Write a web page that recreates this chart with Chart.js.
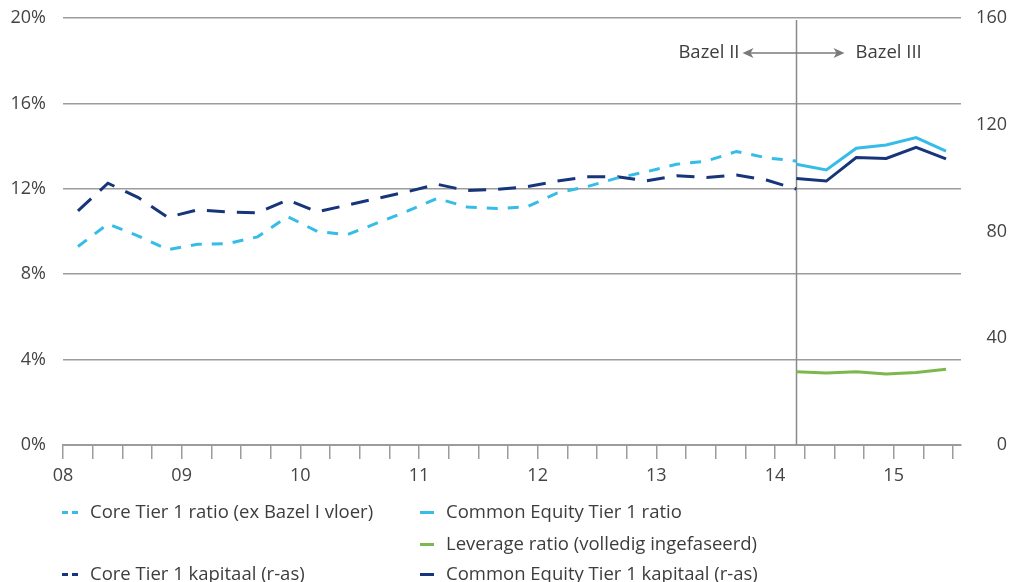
<!DOCTYPE html>
<html>
<head>
<meta charset="utf-8">
<script src="https://cdn.jsdelivr.net/npm/chart.js@4/dist/chart.umd.min.js"></script>
<style>
  html, body { margin: 0; padding: 0; background: #fff; }
  #wrap { position: relative; width: 1011px; height: 582px; }
  #c { position: absolute; left: 0; top: 0; }
  .lg { position: absolute; font: 18.5px "Open Sans", Roboto, sans-serif; color: #3d3d3d; white-space: nowrap; line-height: 22px; }
  .mk { position: absolute; height: 3px; }
</style>
</head>
<body>
<div id="wrap">
  <canvas id="c" width="1011" height="582"></canvas>
  <div id="legend"></div>
</div>
<script>
// Quarters on the horizontal axis (2008 K1 .. 2015 K2)
const quarters = [
  '2008 K1','2008 K2','2008 K3','2008 K4',
  '2009 K1','2009 K2','2009 K3','2009 K4',
  '2010 K1','2010 K2','2010 K3','2010 K4',
  '2011 K1','2011 K2','2011 K3','2011 K4',
  '2012 K1','2012 K2','2012 K3','2012 K4',
  '2013 K1','2013 K2','2013 K3','2013 K4',
  '2014 K1','2014 K2','2014 K3','2014 K4',
  '2015 K1','2015 K2'
];
const yearLabels = ['08','09','10','11','12','13','14','15'];
const leftTicks = [0, 4, 8, 12, 16, 20];
const rightTicks = [0, 40, 80, 120, 160];

// Bazel II period: 2008 K1 .. 2014 K1 (percent / capital in bn)
const coreTier1Ratio = [
  9.3, 10.35, 9.8, 9.15, 9.4, 9.43, 9.75, 10.7,
  10.0, 9.85, 10.4, 10.95, 11.55, 11.15, 11.08, 11.15,
  11.8, 12.1, 12.5, 12.8, 13.15, 13.3, 13.75, 13.45, 13.3
];
const coreTier1Capital = [
  87.7, 98.1, 92.8, 85.3, 88.1, 87.3, 87.0, 91.8,
  87.4, 89.9, 92.4, 94.9, 97.7, 95.3, 95.8, 96.8,
  98.9, 100.5, 100.5, 99.0, 100.9, 100.2, 101.2, 99.3, 95.9
];
// Bazel III period: 2014 K1 .. 2015 K2
const cet1Ratio = [13.15, 12.88, 13.9, 14.05, 14.4, 13.77];
const leverageRatio = [3.43, 3.37, 3.43, 3.33, 3.4, 3.55];
const cet1Capital = [99.9, 98.9, 107.7, 107.4, 111.5, 107.2];

const bazelIIIStart = 24; // index of 2014 K1

const LIGHT = '#35bde8';
const DARK = '#17357a';
const GREEN = '#7db84e';
const GRID = '#9c9c9c';
const TEXT = '#444444';
const FONT = '"Open Sans", Roboto, sans-serif';

function fromStart(values, start) {
  return Array(start).fill(null).concat(values);
}

// labels sit beside the gridlines, so the value axes need no extra room above/below
function noVerticalPadding(scale) {
  scale.paddingTop = 0;
  scale.paddingBottom = 0;
}

const dividerPlugin = {
  id: 'bazelDivider',
  beforeDatasetsDraw(chart) {
    const { ctx, chartArea, scales } = chart;
    const x = Math.round(scales.x.getPixelForValue(bazelIIIStart)) + 0.5;
    ctx.save();
    ctx.strokeStyle = '#8a8a8a';
    ctx.lineWidth = 1.5;
    ctx.beginPath();
    ctx.moveTo(x, chartArea.top + 2);
    ctx.lineTo(x, chartArea.bottom);
    ctx.stroke();

    // arrow with labels on either side
    const y = 53;
    const x0 = x - 54, x1 = x + 48;
    ctx.strokeStyle = '#7a7a7a';
    ctx.fillStyle = '#7a7a7a';
    ctx.lineWidth = 1.3;
    ctx.beginPath();
    ctx.moveTo(x0 + 4, y);
    ctx.lineTo(x1 - 4, y);
    ctx.stroke();
    const head = (tipX, dir) => {
      ctx.beginPath();
      ctx.moveTo(tipX, y);
      ctx.lineTo(tipX + dir * 11, y - 5);
      ctx.lineTo(tipX + dir * 8, y);
      ctx.lineTo(tipX + dir * 11, y + 5);
      ctx.closePath();
      ctx.fill();
    };
    head(x0, 1);
    head(x1, -1);

    ctx.fillStyle = '#3d3d3d';
    ctx.font = '18.5px ' + FONT;
    ctx.textBaseline = 'middle';
    ctx.textAlign = 'right';
    ctx.fillText('Bazel II', x0 - 3, y);
    ctx.textAlign = 'left';
    ctx.fillText('Bazel III', x1 + 11, y);
    ctx.restore();
  }
};

const lineBase = { borderWidth: 3, pointRadius: 0, tension: 0, fill: false, spanGaps: false };

new Chart(document.getElementById('c'), {
  type: 'line',
  data: {
    labels: quarters,
    datasets: [
      Object.assign({ label: 'Core Tier 1 ratio (ex Bazel I vloer)', data: coreTier1Ratio, borderColor: LIGHT, borderDash: [11, 10], yAxisID: 'y' }, lineBase),
      Object.assign({ label: 'Core Tier 1 kapitaal (r-as)', data: coreTier1Capital, borderColor: DARK, borderDash: [18, 12], yAxisID: 'y1' }, lineBase),
      Object.assign({ label: 'Common Equity Tier 1 ratio', data: fromStart(cet1Ratio, bazelIIIStart), borderColor: LIGHT, yAxisID: 'y' }, lineBase),
      Object.assign({ label: 'Leverage ratio (volledig ingefaseerd)', data: fromStart(leverageRatio, bazelIIIStart), borderColor: GREEN, yAxisID: 'y' }, lineBase),
      Object.assign({ label: 'Common Equity Tier 1 kapitaal (r-as)', data: fromStart(cet1Capital, bazelIIIStart), borderColor: DARK, yAxisID: 'y1' }, lineBase)
    ]
  },
  options: {
    responsive: false,
    animation: false,
    layout: { padding: { top: 18, right: 4, left: 0, bottom: 0 } },
    plugins: { legend: { display: false }, tooltip: { enabled: false } },
    scales: {
      x: {
        type: 'category',
        offset: true,
        display: false
      },
      xt: {
        type: 'linear',
        position: 'bottom',
        min: 0,
        max: 30.27,
        afterBuildTicks(scale) {
          scale.ticks = quarters.concat(['end']).map((_, i) => ({ value: i }));
        },
        afterFit(scale) { scale.height = 137; },
        ticks: {
          autoSkip: false,
          maxRotation: 0,
          padding: 6,
          color: TEXT,
          font: { family: FONT, size: 18 },
          callback: (v) => (v % 4 === 0 ? yearLabels[v / 4] : '')
        },
        grid: { drawOnChartArea: false, drawTicks: true, tickLength: 14, color: GRID, lineWidth: 1.5 },
        border: { display: true, color: GRID, width: 2 }
      },
      y: {
        position: 'left',
        min: 0,
        max: 20,
        afterBuildTicks(scale) { scale.ticks = leftTicks.map(v => ({ value: v })); },
        afterFit(scale) { scale.width = 63; noVerticalPadding(scale); },
        ticks: { padding: 17, color: TEXT, font: { family: FONT, size: 18 }, callback: v => v + '%' },
        grid: { color: GRID, lineWidth: 1.5, drawTicks: false },
        border: { display: false }
      },
      y1: {
        position: 'right',
        min: 0,
        max: 160,
        afterBuildTicks(scale) { scale.ticks = rightTicks.map(v => ({ value: v })); },
        afterFit(scale) { scale.width = 46; noVerticalPadding(scale); },
        ticks: { padding: 8, crossAlign: 'far', color: TEXT, font: { family: FONT, size: 18 } },
        grid: { drawOnChartArea: false, drawTicks: false },
        border: { display: false }
      }
    }
  },
  plugins: [dividerPlugin]
});

// Legend laid out in two columns below the chart
const legendItems = [
  { text: 'Core Tier 1 ratio (ex Bazel I vloer)', color: LIGHT, dashed: true, x: 62, y: 512 },
  { text: 'Common Equity Tier 1 ratio', color: LIGHT, dashed: false, x: 420, y: 512 },
  { text: 'Leverage ratio (volledig ingefaseerd)', color: GREEN, dashed: false, x: 420, y: 544 },
  { text: 'Core Tier 1 kapitaal (r-as)', color: DARK, dashed: true, x: 62, y: 574 },
  { text: 'Common Equity Tier 1 kapitaal (r-as)', color: DARK, dashed: false, x: 420, y: 574 }
];
const legendEl = document.getElementById('legend');
legendItems.forEach(item => {
  if (item.dashed) {
    [0, 10].forEach(dx => {
      const m = document.createElement('div');
      m.className = 'mk';
      m.style.cssText = `left:${item.x + dx}px;top:${item.y - 1}px;width:6px;background:${item.color};`;
      legendEl.appendChild(m);
    });
  } else {
    const m = document.createElement('div');
    m.className = 'mk';
    m.style.cssText = `left:${item.x}px;top:${item.y - 1}px;width:14px;background:${item.color};`;
    legendEl.appendChild(m);
  }
  const t = document.createElement('div');
  t.className = 'lg';
  t.textContent = item.text;
  t.style.left = (item.x + (item.dashed ? 28 : 26)) + 'px';
  t.style.top = (item.y - 12) + 'px';
  legendEl.appendChild(t);
});
</script>
</body>
</html>
